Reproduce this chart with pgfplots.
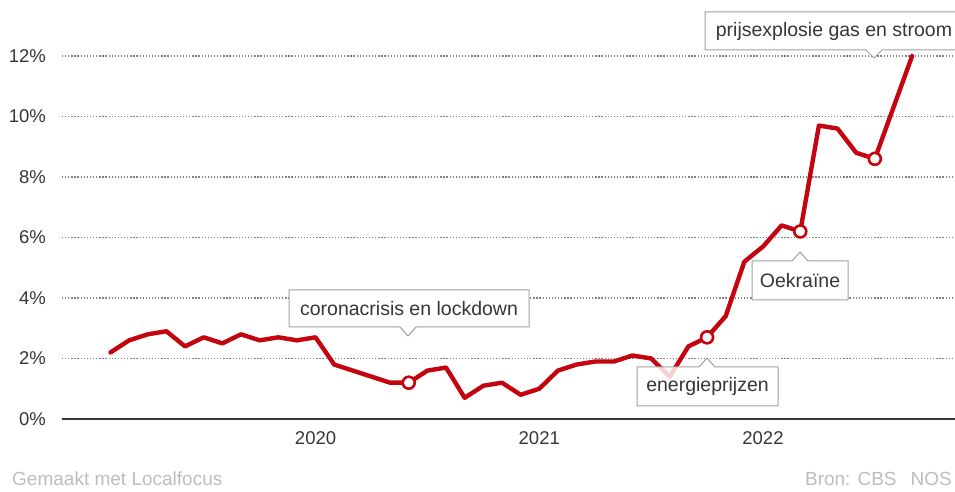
\documentclass[border=0pt]{standalone}
\usepackage{fontspec}
\setmainfont{Liberation Sans}
\usepackage{pgfplots}
\usepackage{pgfplotstable}
\pgfplotsset{compat=1.18}

\definecolor{inflred}{HTML}{C4040E}
\definecolor{txtgray}{HTML}{363636}
\definecolor{gridgray}{HTML}{808080}
\definecolor{boxgray}{HTML}{A0A0A0}
\definecolor{footgray}{HTML}{BDBDBD}

% month index: 0 = jan 2019
\pgfplotstableread{
m cpi
0 2.2
1 2.6
2 2.8
3 2.9
4 2.4
5 2.7
6 2.5
7 2.8
8 2.6
9 2.7
10 2.6
11 2.7
12 1.8
13 1.6
14 1.4
15 1.2
16 1.2
17 1.6
18 1.7
19 0.7
20 1.1
21 1.2
22 0.8
23 1.0
24 1.6
25 1.8
26 1.9
27 1.9
28 2.1
29 2.0
30 1.4
31 2.4
32 2.7
33 3.4
34 5.2
35 5.7
36 6.4
37 6.2
38 9.7
39 9.6
40 8.8
41 8.6
42 10.3
43 12.0
}\cpidata

\pgfplotstableread{
m cpi
16 1.2
32 2.7
37 6.2
41 8.6
}\markdata

\begin{document}
\begin{tikzpicture}[x=1pt,y=1pt]
\useasboundingbox (0,0) rectangle (955,492);
\clip (0,0) rectangle (955,492);
\begin{axis}[
    at={(62pt,73pt)}, anchor=south west,
    scale only axis, width=893pt, height=363pt,
    xmin=-2.6, xmax=45.3, ymin=0, ymax=12,
    clip=false,
    axis line style={draw=none},
    major tick length=0pt,
    xtick={11,23,35},
    xticklabels={2020,2021,2022},
    ytick={2,4,...,12},
    yticklabels={2\%,4\%,6\%,8\%,10\%,12\%},
    extra y ticks={0},
    extra y tick labels={0\%},
    extra y tick style={grid style={solid, draw=txtgray, line width=2pt}},
    ymajorgrids,
    grid style={draw=gridgray, line width=1.2pt, dash pattern=on 1.3pt off 1.8pt},
    tick label style={font=\fontsize{18.5}{20}\selectfont, text=txtgray, inner sep=0pt},
    xticklabel style={anchor=center, yshift=-19pt},
    yticklabel style={anchor=east, xshift=-16pt},
]
\addplot[inflred, line width=4.4pt, line join=round, line cap=round] table[x=m, y=cpi] {\cpidata};
\addplot[only marks, mark=*, mark size=6pt,
    mark options={fill=white, draw=inflred, line width=2.6pt}] table[x=m, y=cpi] {\markdata};
\end{axis}

% callouts
\begin{scope}[line width=1pt]
\filldraw[fill=white, draw=boxgray]
  (289,165) -- (400,165) -- (408,156) -- (416,165) -- (529,165) -- (529,202) -- (289,202) -- cycle;
\node[text=txtgray, font=\fontsize{19.5}{22}\selectfont] at (409,183.5) {coronacrisis en lockdown};

\filldraw[fill=white, draw=boxgray]
  (705,442) -- (866,442) -- (874,434) -- (882,442) -- (962,442) -- (962,480) -- (705,480) -- cycle;
\node[text=txtgray, font=\fontsize{19.5}{22}\selectfont, anchor=west] at (712,461) {prijsexplosie gas en stroom};

\filldraw[fill=white, draw=boxgray]
  (752,192) -- (848,192) -- (848,231) -- (808,231) -- (800,240) -- (792,231) -- (752,231) -- cycle;
\node[text=txtgray, font=\fontsize{19.5}{22}\selectfont] at (800,211.5) {Oekraïne};

\filldraw[fill=white, fill opacity=0.82, draw=boxgray]
  (637,86) -- (778,86) -- (778,125) -- (715,125) -- (707,134) -- (699,125) -- (637,125) -- cycle;
\node[text=txtgray, font=\fontsize{19.5}{22}\selectfont] at (707.5,105.5) {energieprijzen};
\end{scope}

% footer
\node[anchor=base west, text=footgray, font=\fontsize{19}{22}\selectfont, inner sep=0pt] at (12,6) {Gemaakt met Localfocus};
\node[anchor=base east, text=footgray, font=\fontsize{19}{22}\selectfont, inner sep=0pt] at (952,6) {Bron: CBS\hspace{14pt}NOS};
\end{tikzpicture}
\end{document}
